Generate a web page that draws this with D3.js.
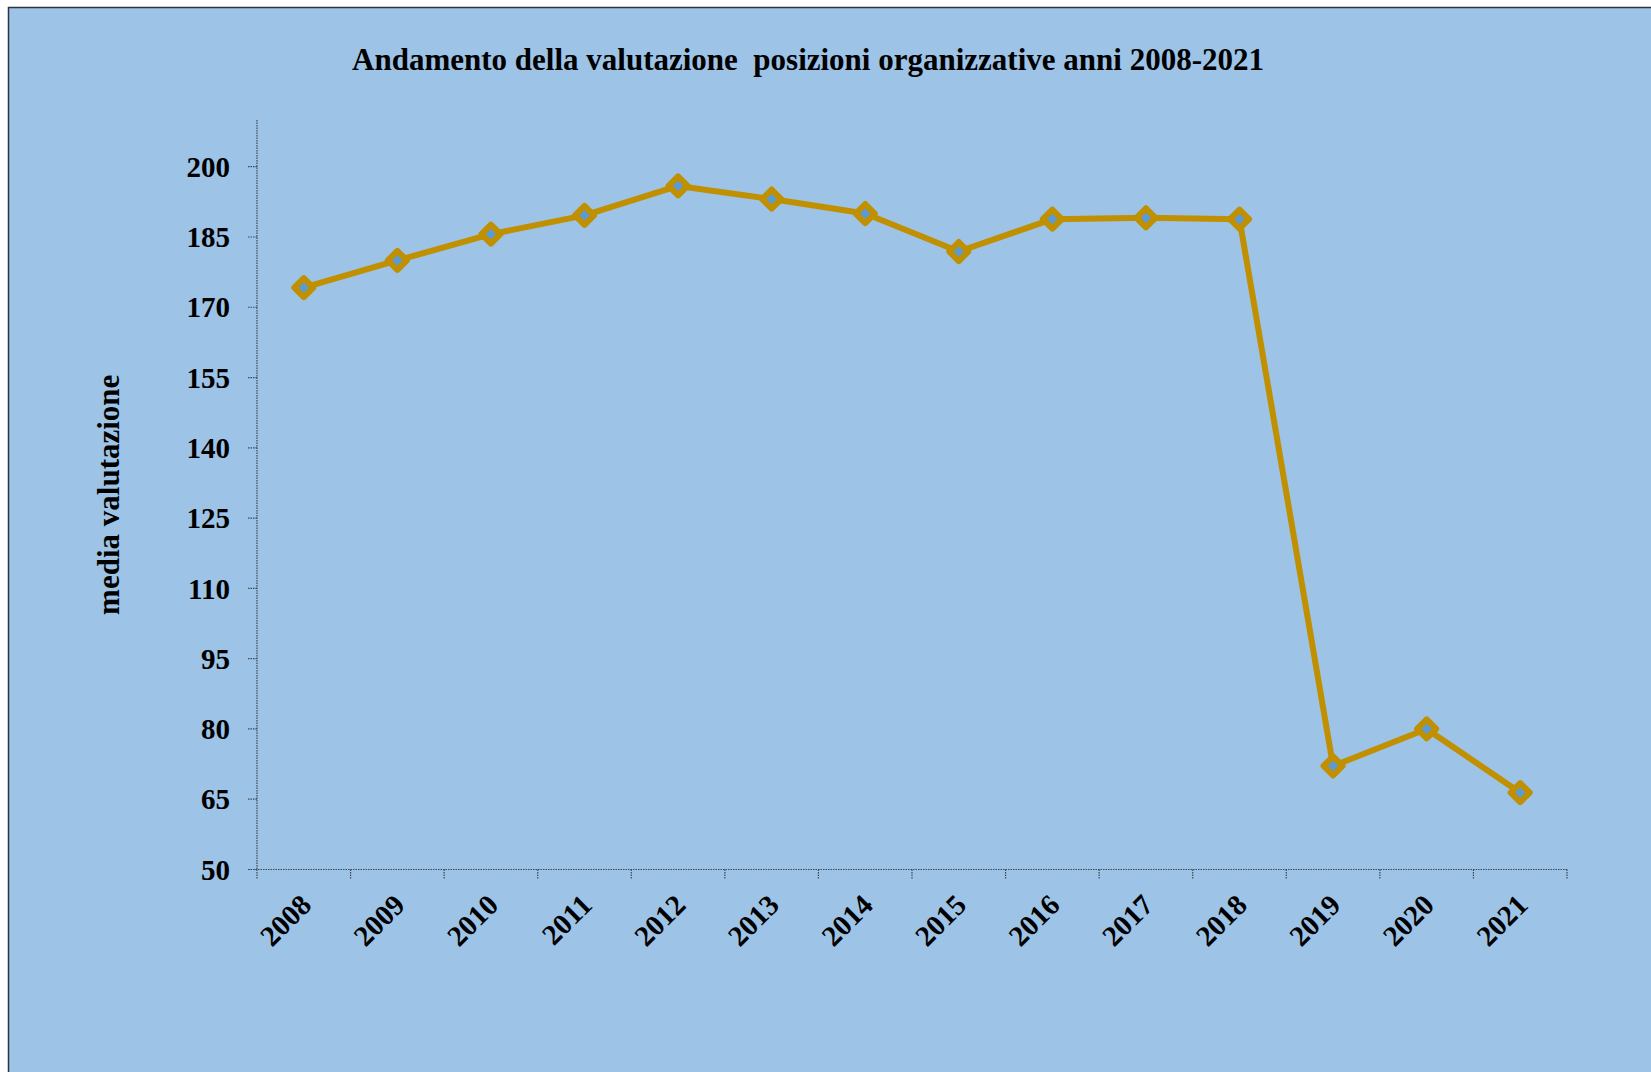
<!DOCTYPE html>
<html><head><meta charset="utf-8">
<script src="https://cdn.jsdelivr.net/npm/d3@7"></script>
<style>html,body{margin:0;padding:0;background:#fff;}svg{display:block;}</style>
</head><body>
<svg id="c" width="1651" height="1072"></svg>
<script>
const years = ["2008","2009","2010","2011","2012","2013","2014","2015","2016","2017","2018","2019","2020","2021"];
const values = [174.2, 180.0, 185.6, 189.6, 195.9, 193.1, 190.0, 181.9, 188.8, 189.1, 188.8, 72.1, 80.0, 66.4];
const yTicks = [50, 65, 80, 95, 110, 125, 140, 155, 170, 185, 200];
const title = "Andamento della valutazione  posizioni organizzative anni 2008-2021";
const yLabel = "media valutazione";

(function () {
const svg = d3.select("#c");
const font = "'Liberation Serif', 'DejaVu Serif', serif";
svg.append("rect").attr("x", 8.5).attr("y", 7.5).attr("width", 1700).attr("height", 1100)
  .attr("fill", "#9DC3E6").attr("stroke", "#2b3540").attr("stroke-width", 1.5);

const pLeft = 257, pRight = 1567, pTop = 120, y0 = 869.5, y200 = 166.7;
const x = d3.scaleBand().domain(years).range([pLeft, pRight]);
const y = d3.scaleLinear().domain([50, 200]).range([y0, y200]);

svg.append("text").attr("x", 808).attr("y", 70).attr("text-anchor", "middle")
  .attr("font-family", font).attr("font-weight", "bold").attr("font-size", 31)
  .attr("fill", "#000").attr("xml:space", "preserve").text(title);

svg.append("text").attr("transform", `translate(119,${(pTop + y0) / 2}) rotate(-90)`)
  .attr("text-anchor", "middle").attr("font-family", font).attr("font-weight", "bold")
  .attr("font-size", 31).text(yLabel);

const axStroke = "#404850";
const gy = svg.append("g").attr("transform", `translate(${pLeft},0)`);
gy.append("line").attr("x1", 0).attr("x2", 0).attr("y1", pTop).attr("y2", y0)
  .attr("stroke", axStroke).attr("stroke-width", 1.2).attr("stroke-dasharray", "1.5,1");
yTicks.forEach(t => {
  gy.append("line").attr("x1", -9).attr("x2", 0).attr("y1", y(t)).attr("y2", y(t))
    .attr("stroke", axStroke).attr("stroke-width", 1.2).attr("stroke-dasharray", "1.5,1");
  gy.append("text").attr("x", -27).attr("y", y(t)).attr("dy", "0.35em").attr("text-anchor", "end")
    .attr("font-family", font).attr("font-weight", "bold").attr("font-size", 29).text(t);
});
const gx = svg.append("g").attr("transform", `translate(0,${y0})`);
gx.append("line").attr("x1", pLeft - 9).attr("x2", pRight).attr("y1", 0).attr("y2", 0)
  .attr("stroke", axStroke).attr("stroke-width", 1.2).attr("stroke-dasharray", "1.5,1");
const bounds = years.map(d => x(d)).concat([pRight]);
bounds.forEach(b => {
  gx.append("line").attr("x1", b).attr("x2", b).attr("y1", 0).attr("y2", 9)
    .attr("stroke", axStroke).attr("stroke-width", 1.2).attr("stroke-dasharray", "1.5,1");
});
years.forEach(d => {
  const cx = x(d) + x.bandwidth() / 2;
  gx.append("text").attr("transform", `translate(${cx + 2},${30}) rotate(-45)`)
    .attr("text-anchor", "end").attr("dy", "0.35em")
    .attr("font-family", font).attr("font-weight", "bold").attr("font-size", 29).text(d);
});

const data = years.map((d, i) => ({ year: d, v: values[i] }));
const line = d3.line().x(d => x(d.year) + x.bandwidth() / 2).y(d => y(d.v));
svg.append("path").datum(data).attr("d", line).attr("fill", "none")
  .attr("stroke", "#C09000").attr("stroke-width", 6).attr("stroke-linejoin", "round");
const s = 9.5;
svg.selectAll(".m").data(data).enter().append("path")
  .attr("transform", d => `translate(${x(d.year) + x.bandwidth() / 2},${y(d.v)})`)
  .attr("d", `M0,${-s}L${s},0L0,${s}L${-s},0Z`)
  .attr("fill", "#5B9BD5").attr("stroke", "#C09000").attr("stroke-width", 6).attr("stroke-linejoin", "round");
})();
</script>
</body></html>
